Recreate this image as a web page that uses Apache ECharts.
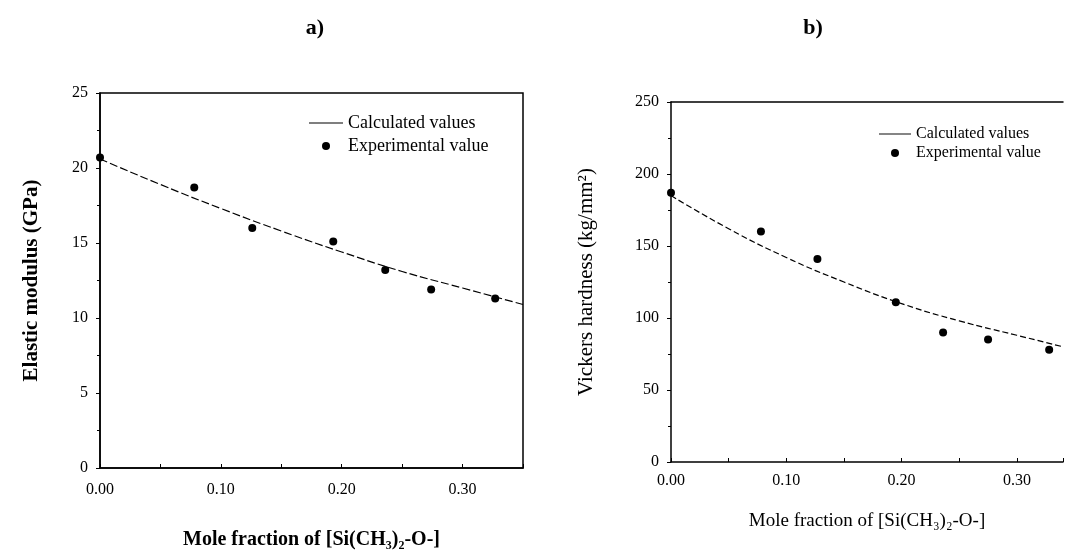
<!DOCTYPE html>
<html><head><meta charset="utf-8">
<script src="https://cdn.jsdelivr.net/npm/echarts@6/dist/echarts.min.js"></script>
<style>html,body{margin:0;padding:0;background:#fff}#c{width:1066px;height:555px}</style>
</head><body><div id="c"></div>
<script>
// Panel a) Elastic modulus
const expX_a = [0.000, 0.078, 0.126, 0.193, 0.236, 0.274, 0.327];
const expY_a = [20.7, 18.7, 16.0, 15.1, 13.2, 11.9, 11.3];
const calcX_a = [0.00, 0.05, 0.10, 0.15, 0.20, 0.25, 0.30, 0.35];
const calcY_a = [20.6, 18.9, 17.3, 15.8, 14.4, 13.1, 12.0, 10.9];
// Panel b) Vickers hardness
const expX_b = [0.000, 0.078, 0.127, 0.195, 0.236, 0.275, 0.328];
const expY_b = [187, 160, 141, 111, 90, 85, 78];
const calcX_b = [0.00, 0.05, 0.10, 0.15, 0.20, 0.25, 0.30, 0.34];
const calcY_b = [185, 162, 142, 125, 110, 98, 88, 80];
const panelTitles = ['a)', 'b)'];
const seriesNames = ['Calculated values', 'Experimental value'];

const zip = (xs, ys) => xs.map((x, i) => [x, ys[i]]);
const serif = '"Liberation Serif", "DejaVu Serif", serif';
const black = '#000';

function xAxisCfg(grid, name, bold, gap, fs, margin) {
  return {
    type: 'value', gridIndex: grid, min: 0, max: grid === 0 ? 0.35 : 0.34, interval: 0.05,
    name: name, nameLocation: 'middle', nameGap: gap,
    nameTextStyle: { fontFamily: serif, fontSize: fs, fontWeight: bold ? 'bold' : 'normal', color: black },
    axisLine: { lineStyle: { color: black, width: 1.5 } },
    axisTick: { inside: true, length: 4, lineStyle: { color: black } },
    axisLabel: { fontFamily: serif, fontSize: 16, color: black, margin: margin,
      formatter: v => (Math.abs(v * 10 - Math.round(v * 10)) < 1e-6) ? v.toFixed(2) : '' },
    splitLine: { show: false }
  };
}
function yAxisCfg(grid, max, interval, name, gap, fs, bold) {
  return {
    type: 'value', gridIndex: grid, min: 0, max: max, interval: interval,
    name: name, nameLocation: 'middle', nameGap: gap,
    nameTextStyle: { fontFamily: serif, fontSize: fs, fontWeight: bold ? 'bold' : 'normal', color: black },
    axisLine: { lineStyle: { color: black, width: 1.5 } },
    axisTick: { inside: false, length: 4, lineStyle: { color: black } },
    minorTick: { show: true, splitNumber: 2, length: 3, lineStyle: { color: black } },
    axisLabel: { fontFamily: serif, fontSize: 16, color: black, margin: 12 },
    splitLine: { show: false }
  };
}

const lineIcon = 'path://M0,0 L40,0 L40,1.2 L0,1.2 Z';

const option = {
  backgroundColor: '#fff',
  animation: false,
  title: [
    { text: panelTitles[0], left: 310, top: 12, textAlign: 'center',
      textStyle: { fontFamily: serif, fontSize: 22, fontWeight: 'bold', color: black } },
    { text: panelTitles[1], left: 808, top: 12, textAlign: 'center',
      textStyle: { fontFamily: serif, fontSize: 22, fontWeight: 'bold', color: black } }
  ],
  grid: [
    { left: 100, top: 93, right: 543, bottom: 85, show: true, borderColor: black, borderWidth: 1.5 },
    { left: 671, top: 102, right: 2, bottom: 93 }
  ],
  legend: [
    { data: [{ name: seriesNames[0], icon: lineIcon }, { name: seriesNames[1], icon: 'circle' }],
      orient: 'vertical', left: 304, top: 109, itemGap: 5, itemWidth: 34, itemHeight: 8,
      textStyle: { fontFamily: serif, fontSize: 18, color: black }, selectedMode: false },
    { data: [{ name: seriesNames[0] + ' ', icon: lineIcon }, { name: seriesNames[1] + ' ', icon: 'circle' }],
      orient: 'vertical', left: 874, top: 121, itemGap: 3, itemWidth: 32, itemHeight: 8,
      textStyle: { fontFamily: serif, fontSize: 16, color: black }, selectedMode: false }
  ],
  xAxis: [
    xAxisCfg(0, 'Mole fraction of [Si(CH₃)₂-O-]', true, 62, 20, 14),
    xAxisCfg(1, 'Mole fraction of [Si(CH₃)₂-O-]', false, 50, 19, 11),
    { type: 'value', gridIndex: 1, position: 'top', min: 0, max: 0.34,
      axisLine: { show: true, lineStyle: { color: black, width: 1.5 } },
      axisTick: { show: false }, axisLabel: { show: false }, splitLine: { show: false } }
  ],
  yAxis: [
    yAxisCfg(0, 25, 5, 'Elastic modulus (GPa)', 58, 21, true),
    yAxisCfg(1, 250, 50, 'Vickers hardness (kg/mm²)', 74, 21, false)
  ],
  series: [
    { name: seriesNames[0], type: 'line', xAxisIndex: 0, yAxisIndex: 0, smooth: true,
      symbol: 'none', data: zip(calcX_a, calcY_a),
      lineStyle: { color: black, width: 1.2, type: [8, 3] }, itemStyle: { color: black } },
    { name: seriesNames[1], type: 'scatter', xAxisIndex: 0, yAxisIndex: 0,
      symbol: 'circle', symbolSize: 8, data: zip(expX_a, expY_a), itemStyle: { color: black, opacity: 1 } },
    { name: seriesNames[0] + ' ', type: 'line', xAxisIndex: 1, yAxisIndex: 1, smooth: true,
      symbol: 'none', data: zip(calcX_b, calcY_b),
      lineStyle: { color: black, width: 1.2, type: [6, 3] }, itemStyle: { color: black } },
    { name: seriesNames[1] + ' ', type: 'scatter', xAxisIndex: 1, yAxisIndex: 1,
      symbol: 'circle', symbolSize: 8, data: zip(expX_b, expY_b), itemStyle: { color: black, opacity: 1 } }
  ]
};
const chart = echarts.init(document.getElementById('c'), null, { renderer: 'canvas' });
chart.setOption(option);
</script></body></html>
